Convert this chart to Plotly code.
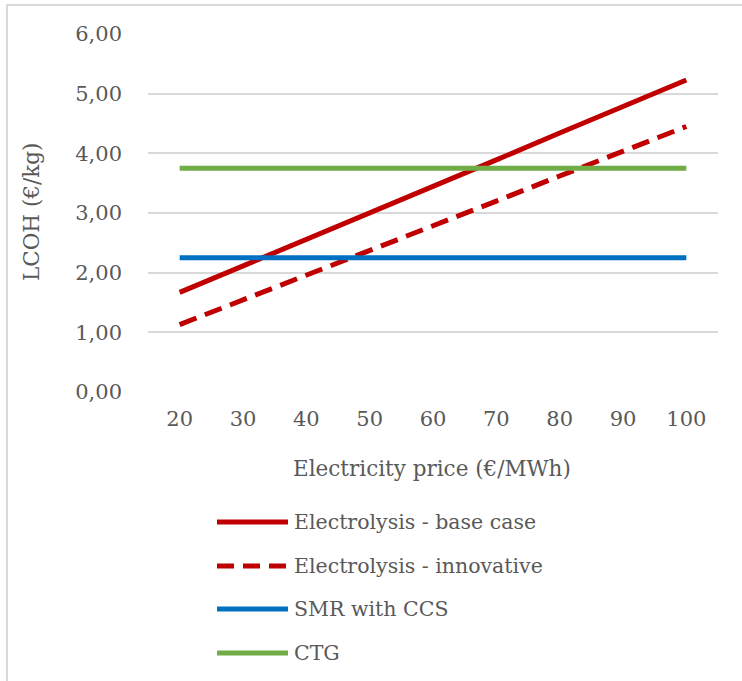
import plotly.graph_objects as go

prices = ["20", "30", "40", "50", "60", "70", "80", "90", "100"]
base_case = [1.67, 2.11, 2.56, 3.00, 3.45, 3.89, 4.34, 4.78, 5.23]
innovative = [1.13, 1.54, 1.96, 2.37, 2.79, 3.20, 3.62, 4.03, 4.45]
smr_ccs = [2.25] * 9
ctg = [3.75] * 9

series_names = ["Electrolysis - base case", "Electrolysis - innovative", "SMR with CCS", "CTG"]
series_colors = ["#C00000", "#C00000", "#0070C0", "#70AD47"]
series_dash = ["solid", "18px,9px", "solid", "solid"]
y_ticks = [0, 1, 2, 3, 4, 5, 6]

FONT = "DejaVu Serif"
TXT = "#595959"
W, H = 742, 681
L, R, T, B = 148, 24, 34, 289
pw, ph = W - L - R, H - T - B

def px2x(px):
    return (px - L) / pw

def py2y(py):
    return (H - B - py) / ph

fig = go.Figure()
for name, vals, col, dash in zip(series_names, [base_case, innovative, smr_ccs, ctg], series_colors, series_dash):
    fig.add_trace(go.Scatter(x=prices, y=vals, mode="lines", name=name,
                             line=dict(color=col, width=5, dash=dash), showlegend=False,
                             hoverinfo="skip"))

shapes = []
annotations = []
# manual legend
leg_y = [522, 566, 609, 653]
for yy, name, col, dash in zip(leg_y, series_names, series_colors, series_dash):
    shapes.append(dict(type="line", xref="paper", yref="paper",
                       x0=px2x(217), x1=px2x(288), y0=py2y(yy), y1=py2y(yy),
                       line=dict(color=col, width=5, dash="17px,9px" if dash != "solid" else "solid")))
    annotations.append(dict(xref="paper", yref="paper", x=px2x(292), y=py2y(yy),
                            xanchor="left", yanchor="middle", text=name, showarrow=False,
                            font=dict(family=FONT, size=20.5, color=TXT)))

# frame
shapes.append(dict(type="line", xref="paper", yref="paper", x0=px2x(7), x1=px2x(7),
                   y0=py2y(4), y1=py2y(700), line=dict(color="#d9d9d9", width=2)))
shapes.append(dict(type="line", xref="paper", yref="paper", x0=px2x(6), x1=px2x(760),
                   y0=py2y(5), y1=py2y(5), line=dict(color="#d9d9d9", width=2)))

# axis titles
annotations.append(dict(xref="paper", yref="paper", x=px2x(432), y=py2y(469),
                        xanchor="center", yanchor="middle", text="Electricity price (€/MWh)",
                        showarrow=False, font=dict(family=FONT, size=21.5, color=TXT)))
annotations.append(dict(xref="paper", yref="paper", x=px2x(31), y=py2y(212),
                        xanchor="center", yanchor="middle", text="LCOH (€/kg)", textangle=-90,
                        showarrow=False, font=dict(family=FONT, size=21.5, color=TXT)))

fig.update_layout(
    width=W, height=H,
    margin=dict(l=L, r=R, t=T, b=B),
    paper_bgcolor="white", plot_bgcolor="white",
    separators=",.",
    font=dict(family=FONT, size=21, color=TXT),
    shapes=shapes, annotations=annotations,
    hovermode=False,
    xaxis=dict(type="category", range=[-0.5, 8.5], showgrid=False, zeroline=False,
               showline=False, ticks="", ticklabelstandoff=12,
               tickfont=dict(family=FONT, size=21, color=TXT)),
    yaxis=dict(range=[0, 6], tickvals=y_ticks, tickformat=".2f", showgrid=True,
               gridcolor="#d9d9d9", gridwidth=2, zeroline=False, showline=False,
               ticks="", ticklabelstandoff=25,
               tickfont=dict(family=FONT, size=21, color=TXT)),
)

fig.write_html("out.html", config={"displayModeBar": False},
               post_script="document.body.style.margin='0px';")
